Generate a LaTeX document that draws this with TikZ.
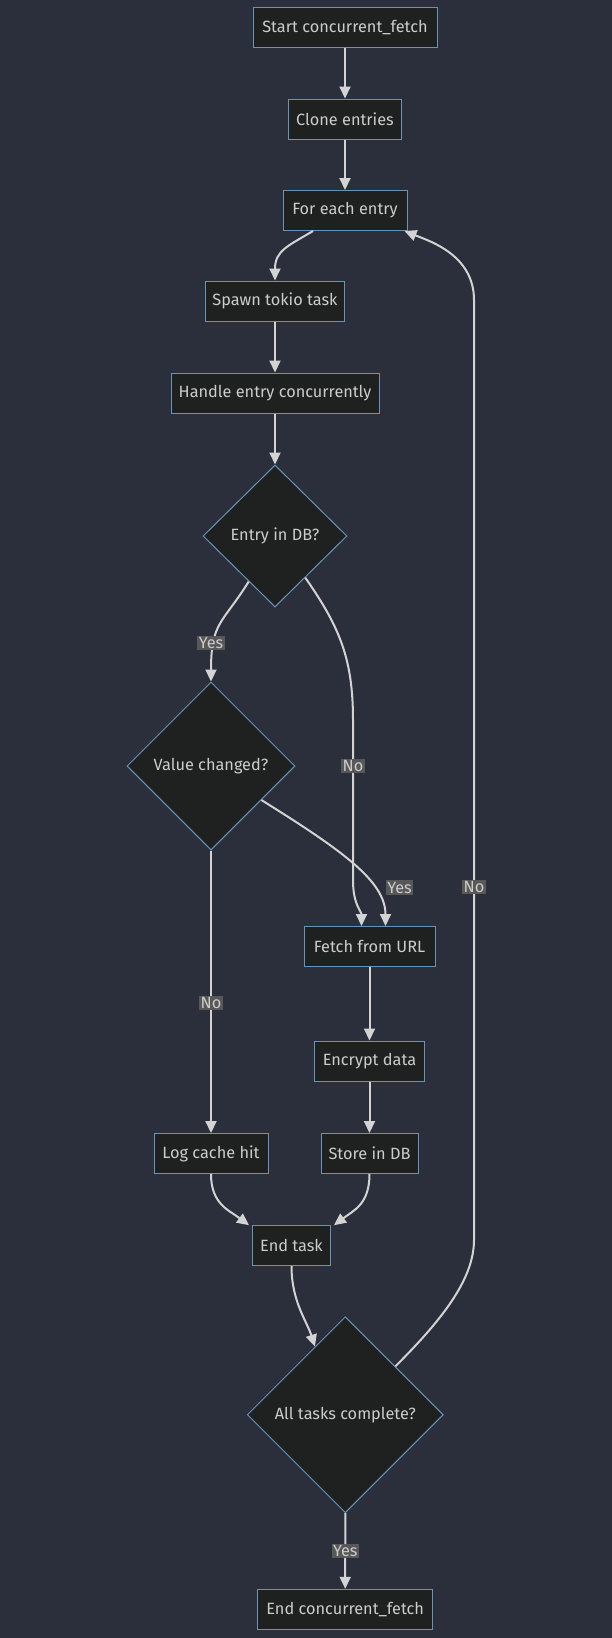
\documentclass[tikz,border=0pt]{standalone}
\usepackage{fontspec}
\setmainfont{Fira Sans}
\usetikzlibrary{shapes.geometric,arrows.meta,calc}
\definecolor{bgc}{HTML}{2A2F3B}
\definecolor{nodefill}{HTML}{1F2020}
\definecolor{nodeline}{HTML}{6A93B8}
\definecolor{edgec}{HTML}{D3D3D3}
\definecolor{txtc}{HTML}{CCCCCC}
\definecolor{lblbg}{HTML}{585858}
\tikzset{
  box/.style={draw=nodeline, fill=nodefill, line width=1pt, text=txtc,
    minimum height=40pt, inner sep=0pt, font=\fontsize{16.3}{19}\selectfont},
  dia/.style={diamond, aspect=1, draw=nodeline, fill=nodefill, line width=1pt,
    text=txtc, inner sep=0pt, font=\fontsize{16.3}{19}\selectfont},
  edge/.style={draw=edgec, line width=2pt,
    -{Triangle[width=11pt,length=12pt]}},
  lbl/.style={fill=lblbg, text=txtc, inner sep=1.5pt,
    font=\fontsize{16.3}{19}\selectfont}
}
\begin{document}
\begin{tikzpicture}[x=1pt,y=-1pt]
\useasboundingbox (0,0) rectangle (612,1638);
\fill[bgc] (0,0) rectangle (612,1638);

\node[box, minimum width=184pt] (start) at (345,27.5) {Start concurrent\_fetch};
\node[box, minimum width=113pt] (clone) at (345,119) {Clone entries};
\node[box, minimum width=124pt] (fe) at (345,210.5) {For each entry};
\node[box, minimum width=139pt] (spawn) at (275,301) {Spawn tokio task};
\node[box, minimum width=208pt] (handle) at (275,393) {Handle entry concurrently};
\node[dia, minimum width=144pt, minimum height=142pt] (entry) at (275,536) {Entry in DB?};
\node[dia, minimum width=168pt, minimum height=168pt] (value) at (211,766) {Value changed?};
\node[box, minimum width=131pt] (fetch) at (369.5,946.5) {Fetch from URL};
\node[box, minimum width=110pt] (encrypt) at (369.5,1061) {Encrypt data};
\node[box, minimum width=114pt] (log) at (211,1153.5) {Log cache hit};
\node[box, minimum width=97pt] (store) at (369.5,1153.5) {Store in DB};
\node[box, minimum width=78pt] (endtask) at (291.5,1245.7) {End task};
\node[dia, minimum width=196pt, minimum height=196pt] (all) at (345.3,1414.7) {All tasks complete?};
\node[box, minimum width=175pt] (endf) at (345.2,1609.3) {End concurrent\_fetch};

\draw[edge] (start) -- (clone);
\draw[edge] (clone) -- (fe.north -| clone);
\draw[edge] ([xshift=-32pt]fe.south) .. controls +(-25,15) and +(0,-30) .. (spawn.north);
\draw[edge] (spawn) -- (handle);
\draw[edge] (handle.south) -- (entry.north);

\draw[edge] (entry.240) .. controls +(-26,42) and +(0,-60) .. (value.north);
\node[lbl] (lyes1) at (211,643) {Yes};
\draw[edge] (entry.306) .. controls +(35,50) and +(0,-60) .. (353,720)
  -- (353,880) .. controls +(0,25) and +(0,-15) .. ([xshift=-8pt]fetch.north);
\node[lbl] (lno1) at (353,766) {No};

\draw[edge] (value.326) .. controls +(80,50) and +(0,-45) .. ([xshift=16pt]fetch.north);
\node[lbl] (lyes2) at (399.5,887.5) {Yes};

\draw[edge] (value.south) -- (log.north);
\node[lbl] (lno2) at (211,1003) {No};

\draw[edge] (fetch) -- (encrypt);
\draw[edge] (encrypt) -- (store);

\draw[edge] (log.south) .. controls +(0,30) and +(-20,-15) .. ([xshift=-3pt]endtask.north west);
\draw[edge] (store.south) .. controls +(0,30) and +(20,-15) .. ([xshift=3pt]endtask.north east);
\draw[edge] (endtask.south) .. controls +(0,35) and +(-8,-25) .. (all.114);

\draw[edge] (all.44) .. controls +(45,-45) and +(0,40) .. (474,1240)
  -- (474,300) .. controls +(0,-45) and +(25,10) .. ([xshift=-3pt]fe.south east);
\node[lbl] (lno3) at (474,887) {No};

\draw[edge] (all.south) -- (endf.north) node[lbl, midway] {Yes};
\end{tikzpicture}
\end{document}
